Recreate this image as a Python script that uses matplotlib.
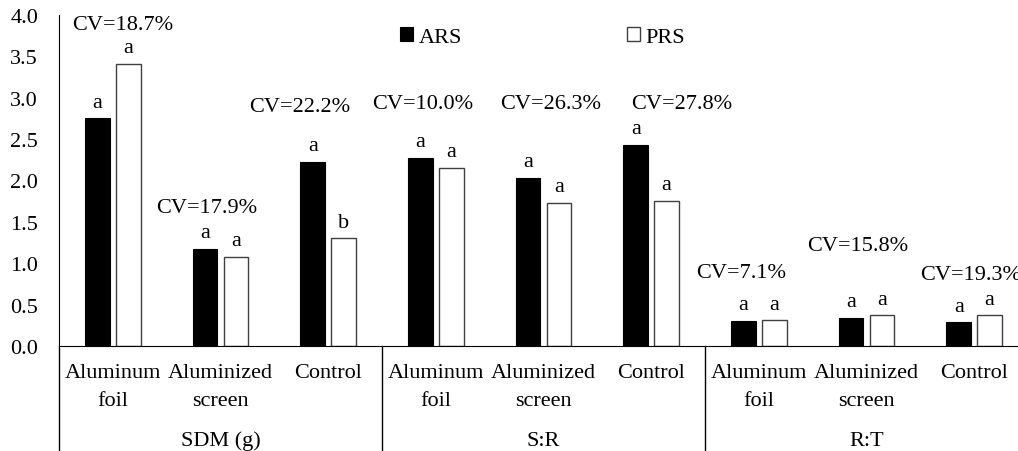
import matplotlib
matplotlib.use('Agg')
import matplotlib.pyplot as plt
import matplotlib.transforms as mtransforms
import numpy as np

plt.rcParams['font.family'] = ['Liberation Serif', 'DejaVu Serif']

# data
groups = ['SDM (g)', 'S:R', 'R:T']
treatments = ['Aluminum\nfoil', 'Aluminized\nscreen', 'Control']
ars = [2.75, 1.17, 2.22, 2.27, 2.03, 2.43, 0.30, 0.34, 0.285]
prs = [3.41, 1.08, 1.30, 2.15, 1.73, 1.755, 0.31, 0.37, 0.37]
ars_letters = ['a', 'a', 'a', 'a', 'a', 'a', 'a', 'a', 'a']
prs_letters = ['a', 'a', 'b', 'a', 'a', 'a', 'a', 'a', 'a']
cv_labels = ['CV=18.7%', 'CV=17.9%', 'CV=22.2%',
             'CV=10.0%', 'CV=26.3%', 'CV=27.8%',
             'CV=7.1%', 'CV=15.8%', 'CV=19.3%']

# where the CV boxes sit (x in category units, y in data units)
cv_xy = [(0.09, 3.88), (0.87, 1.67), (1.74, 2.90),
         (2.88, 2.93), (4.07, 2.93), (5.28, 2.93),
         (5.84, 0.89), (6.92, 1.22), (7.97, 0.86)]

fs = 16
W, H = 1018, 452
fig = plt.figure(figsize=(W / 100, H / 100), dpi=100)
# axes runs a bit past the right edge, as in the original
ax = fig.add_axes([59 / W, 105 / H, 969 / W, 331 / H])

n = len(ars)
x = np.arange(n)
bw = 0.229
off = 0.1425
ax.bar(x - off, ars, bw, color='black', edgecolor='black', lw=0.8, label='ARS')
ax.bar(x + off, prs, bw, color='white', edgecolor='#404040', lw=1.0, label='PRS')

for i in range(n):
    ax.annotate(ars_letters[i], (x[i] - off, ars[i]), xytext=(0, 8.5),
                textcoords='offset points', ha='center', va='baseline', fontsize=fs)
    ax.annotate(prs_letters[i], (x[i] + off, prs[i]), xytext=(0, 8.5),
                textcoords='offset points', ha='center', va='baseline', fontsize=fs)

for i, (cx, cy) in enumerate(cv_xy):
    ax.text(cx, cy, cv_labels[i], ha='center', va='center', fontsize=fs, clip_on=False)

ax.set_xlim(-0.5, n - 0.5)
ax.set_ylim(0, 4.0)
ax.set_yticks(np.arange(0, 4.01, 0.5))
ax.set_yticklabels(['%.1f' % v for v in np.arange(0, 4.01, 0.5)])
ax.tick_params(axis='y', length=0, pad=15, labelsize=fs)
ax.set_xticks([])

for s in ['top', 'right']:
    ax.spines[s].set_visible(False)
ax.spines['left'].set_color('black')
ax.spines['bottom'].set_color('black')

# multi-level category axis below the plot
trans = mtransforms.blended_transform_factory(ax.transData, ax.transAxes)
for k in range(len(groups) + 1):
    xs = -0.5 + 3 * k
    ax.plot([xs, xs], [0, -0.5], color='black', lw=1, transform=trans, clip_on=False)

for i in range(n):
    lines = treatments[i % 3].split('\n')
    ax.text(x[i], -0.079, lines[0], transform=trans, ha='center', va='center', fontsize=fs)
    if len(lines) > 1:
        ax.text(x[i], -0.166, lines[1], transform=trans, ha='center', va='center', fontsize=fs)

for g, name in enumerate(groups):
    ax.text(3 * g + 1, -0.285, name, transform=trans, ha='center', va='center', fontsize=fs)

ax.legend(loc='center left', bbox_to_anchor=(400 / W, 1 - 38 / H),
          bbox_transform=fig.transFigure, ncol=2, frameon=False, fontsize=fs,
          handlelength=0.6, handleheight=0.6, handletextpad=0.25,
          columnspacing=7.4, borderpad=0, borderaxespad=0)

fig.savefig('out.png', dpi=100)
